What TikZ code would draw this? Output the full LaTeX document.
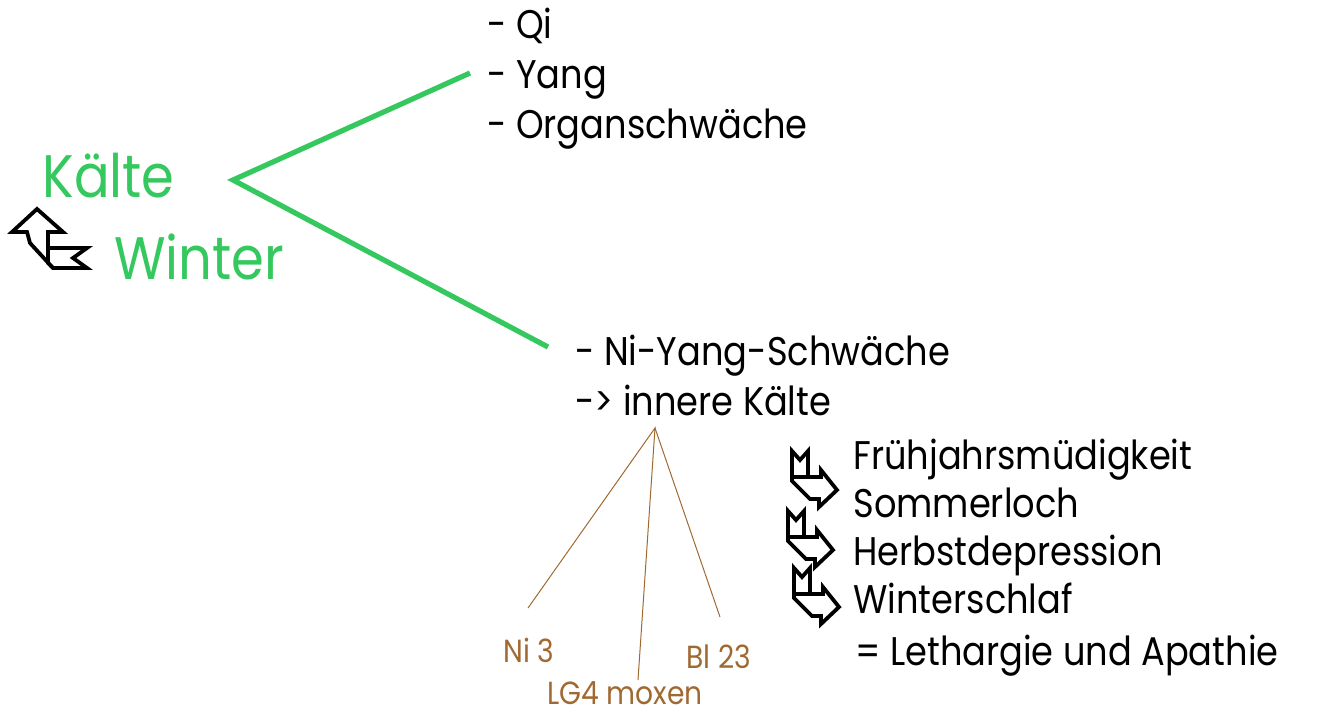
\documentclass[tikz,border=0pt]{standalone}
\usepackage{fontspec}
\setmainfont{Poppins}[FakeStretch=0.88]
\definecolor{kgreen}{RGB}{52,200,95}
\definecolor{kbrown}{RGB}{160,105,50}
\tikzset{
  txt/.style={anchor=base west, inner sep=0pt, font=\fontsize{20}{24}\selectfont},
  big/.style={anchor=base west, inner sep=0pt, text=kgreen, font=\fontsize{30}{36}\selectfont},
  pt/.style={anchor=base west, inner sep=0pt, text=kbrown, font=\fontsize{16}{18}\selectfont},
  gline/.style={draw=kgreen, line width=2.6pt},
  bline/.style={draw=kbrown, line width=0.5pt},
  icon/.style={draw=black, line width=1.9pt, fill=white, line join=miter},
  iconin/.style={draw=black, line width=1.9pt},
}
\begin{document}
\begin{tikzpicture}[x=0.5pt,y=-0.5pt]
\useasboundingbox (0,0) rectangle (1318,713);
% top list
\node[txt] (qi) at (487,38) {- Qi};
\node[txt] (yang) at (487,88) {- Yang};
\node[txt] (organ) at (487,138) {- Organschwäche};
% left
\node[big] (kaelte) at (42,197) {Kälte};
\node[big] (winter) at (114,279) {Winter};
% middle
\node[txt] (niyang) at (575,365) {- Ni-Yang-Schwäche};
\node[txt] (innere) at (575,415) {-> innere Kälte};
% green connectors
\coordinate (gs) at (233,180);
\coordinate (ge1) at (470,73);
\coordinate (ge2) at (548,347);
\draw[gline] (ge1) -- (gs) -- (ge2);
% brown
\coordinate (bs) at (655,428);
\node[pt] (ni3) at (503,662) {Ni 3};
\node[pt] (lg4) at (547,704) {LG4 moxen};
\node[pt] (bl23) at (686,668) {Bl 23};
\coordinate (b1) at (528,608);
\coordinate (b2) at (638,680);
\coordinate (b3) at (720,617);
\draw[bline] (b1) -- (bs) -- (b2);
\draw[bline] (bs) -- (b3);
% right list
\node[txt] (fj) at (853,469) {Frühjahrsmüdigkeit};
\node[txt] (so) at (853,517) {Sommerloch};
\node[txt] (he) at (853,565) {Herbstdepression};
\node[txt] (ws) at (853,613) {Winterschlaf};
\node[txt] (le) at (855,665) {= Lethargie und Apathie};
% left icon
\path[icon] (37,209) -- (12,232) -- (27,232) -- (30,243) -- (53,268) -- (87,268) -- (73,258) -- (87,248) -- (48,248) -- (48,232) -- (63,232) -- cycle;
\draw[iconin] (48,247) -- (48,263) -- (53,268);
% right icons
\foreach \dx/\dy/\n in {0/0/a, -4/60/b, 2/117/c}{
  \begin{scope}[shift={(\dx*0.5pt,-\dy*0.5pt)}]
  \path[icon] (792,451) -- (800,460) -- (808,451) -- (808,477) -- (821,477) -- (821,470) -- (837,490) -- (819,507) -- (819,499) -- (810,499) -- (792,481) -- cycle;
  \draw[iconin] (792,477) -- (808,477);
  \end{scope}
}
\end{tikzpicture}
\end{document}
